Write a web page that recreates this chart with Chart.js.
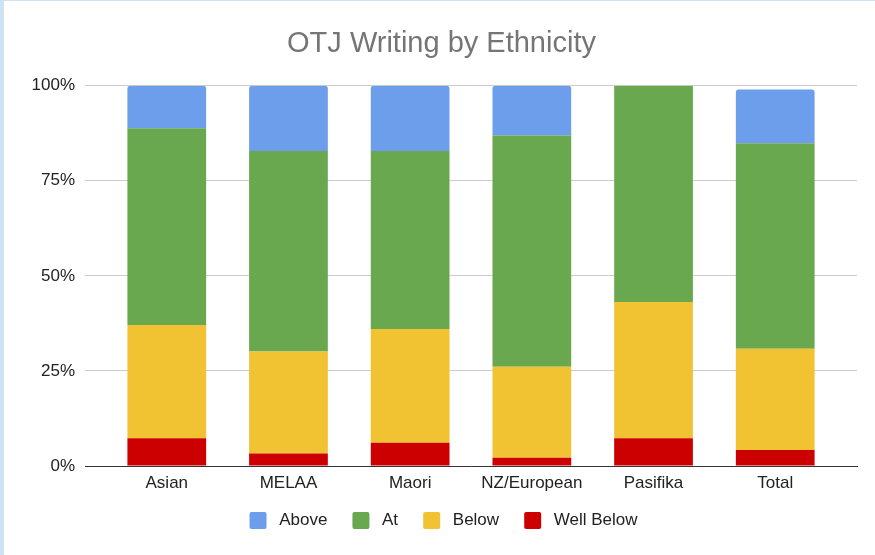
<!DOCTYPE html>
<html>
<head>
<meta charset="utf-8">
<title>OTJ Writing by Ethnicity</title>
<script src="https://cdn.jsdelivr.net/npm/chart.js@4/dist/chart.umd.min.js"></script>
<style>
  body { margin: 0; background: #fff; }
  #wrap {
    width: 871px;
    height: 554px;
    border-left: 4px solid #cfe2f3;
    border-top: 1px solid #cfe2f3;
    background: #fff;
  }
</style>
</head>
<body>
<div id="wrap"><canvas id="otjChart" width="871" height="554"></canvas></div>
<script>
// percentage of students in each band, per ethnicity
const categories = ['Asian', 'MELAA', 'Maori', 'NZ/European', 'Pasifika', 'Total'];
const wellBelow = [7.3, 3.3, 6.1, 2.2, 7.3, 4.2];
const below     = [29.8, 26.8, 29.9, 23.9, 35.8, 26.6];
const at        = [51.7, 52.7, 46.8, 60.8, 56.9, 54.1];
const above     = [11.2, 17.2, 17.2, 13.1, 0, 14.1];
const yTicks = [0, 25, 50, 75, 100];

const fontFamily = '"Liberation Sans", Arial, sans-serif';

function points(values) {
    return values.map((v, i) => ({ x: i, y: v }));
}

document.addEventListener('DOMContentLoaded', function() {
    const ctx = document.getElementById('otjChart').getContext('2d');

    new Chart(ctx, {
        type: 'bar',
        data: {
            datasets: [
                { label: 'Well Below', data: points(wellBelow), backgroundColor: '#cc0000' },
                { label: 'Below', data: points(below), backgroundColor: '#f1c232' },
                { label: 'At', data: points(at), backgroundColor: '#6aa84f' },
                {
                    label: 'Above',
                    data: points(above),
                    backgroundColor: '#6d9eeb',
                    borderRadius: { topLeft: 3, topRight: 3, bottomLeft: 0, bottomRight: 0 },
                    borderSkipped: false
                }
            ]
        },
        options: {
            responsive: false,
            maintainAspectRatio: false,
            animation: false,
            barPercentage: 0.647,
            categoryPercentage: 1,
            layout: {
                padding: { left: 22, right: 18, top: 0, bottom: 11.9 }
            },
            plugins: {
                title: {
                    display: true,
                    text: 'OTJ Writing by Ethnicity',
                    color: '#757575',
                    font: { family: fontFamily, size: 29, weight: 'normal' },
                    padding: { top: 25.8, bottom: 24.1 }
                },
                legend: {
                    position: 'bottom',
                    reverse: true,
                    // empty title with negative padding pulls the row up a little
                    title: {
                        display: true,
                        text: '',
                        font: { size: 10 },
                        padding: { top: 0, bottom: -18.1 }
                    },
                    labels: {
                        color: '#222',
                        font: { family: fontFamily, size: 17 },
                        boxWidth: 25.2,
                        boxHeight: 25.2,
                        padding: 21,
                        // white outline trims the swatch and widens the gap to the text
                        generateLabels: function(chart) {
                            const items = Chart.defaults.plugins.legend.labels.generateLabels(chart);
                            return items.map(item => Object.assign(item, {
                                strokeStyle: '#ffffff',
                                lineWidth: 8.2,
                                borderRadius: 6
                            }));
                        }
                    }
                },
                tooltip: { enabled: false }
            },
            scales: {
                x: {
                    type: 'linear',
                    stacked: true,
                    offset: false,
                    min: -0.672,
                    max: 5.672,
                    grid: { display: false, drawTicks: false },
                    border: { display: true, color: '#333', width: 1 },
                    afterFit: function(scale) { scale.height = 27; },
                    ticks: {
                        stepSize: 1,
                        includeBounds: false,
                        autoSkip: false,
                        maxRotation: 0,
                        padding: 7.5,
                        color: '#222',
                        font: { family: fontFamily, size: 17, lineHeight: '19px' },
                        callback: function(value) {
                            return Number.isInteger(value) ? categories[value] : '';
                        }
                    }
                },
                y: {
                    stacked: true,
                    min: yTicks[0],
                    max: yTicks[yTicks.length - 1],
                    grid: { color: '#cccccc', drawTicks: false },
                    border: { display: false },
                    afterFit: function(scale) { scale.width = 59; },
                    afterBuildTicks: function(scale) {
                        scale.ticks = yTicks.map(v => ({ value: v }));
                    },
                    ticks: {
                        padding: 10,
                        color: '#222',
                        font: { family: fontFamily, size: 17 },
                        callback: function(value) { return value + '%'; }
                    }
                }
            }
        }
    });
});
</script>
</body>
</html>
